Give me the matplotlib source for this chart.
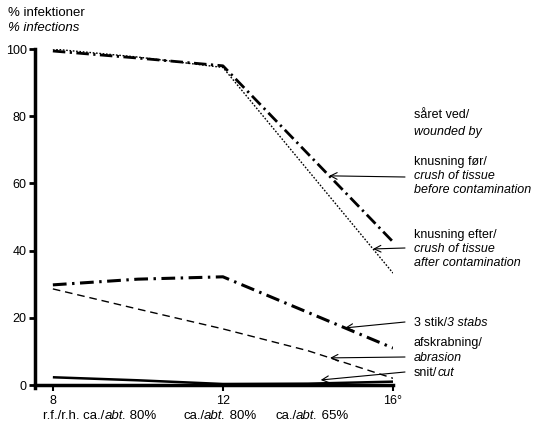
import numpy as np
import matplotlib
matplotlib.use('Agg')
import matplotlib.pyplot as plt

plt.rcParams['font.family'] = ['Liberation Sans', 'DejaVu Sans']
plt.rcParams['font.size'] = 9

# Infection rate (%) against temperature for each kind of wound
temps = [8, 10, 12, 14, 16]
crush_before = [99.4, 97.3, 95.0, 68.8, 42.6]
crush_after = [100.0, 97.6, 94.5, 63.9, 33.3]
stabs = [29.8, 31.5, 32.2, 21.6, 11.0]
abrasion = [28.6, 22.6, 16.7, 10.2, 2.0]
cut = [2.3, 1.4, 0.3, 0.4, 1.0]

xticks = [8, 12, 16]
xticklabels = ['8', '12', '16°']
yticks = [0, 20, 40, 60, 80, 100]

W, H = 538, 422
fig = plt.figure(figsize=(W / 100, H / 100), dpi=100)
ax = fig.add_axes([35 / W, 1 - 385 / H, (393 - 35) / W, (385 - 49) / H])


def fx(px):
    return px / W


def fy(py):
    return 1 - py / H


ax.plot(temps, crush_before, color='k', lw=2.0,
        linestyle=(0, (4.5, 1.6, 0.8, 1.6)))
ax.plot(temps, crush_after, color='k', lw=1.0, linestyle=(0, (1.2, 1.2)))
ax.plot(temps, stabs, color='k', lw=2.2,
        linestyle=(0, (4.5, 1.8, 0.8, 1.8)))
ax.plot(temps, abrasion, color='k', lw=1.0, linestyle=(0, (5.5, 3.5)))
ax.plot(temps, cut, color='k', lw=1.8, solid_capstyle='butt')

ax.set_xlim(7.58, 16)
ax.set_ylim(0, 100)
for side in ['top', 'right']:
    ax.spines[side].set_visible(False)
ax.spines['left'].set_linewidth(2.5)
ax.spines['bottom'].set_linewidth(2.5)
ax.spines['left'].set_bounds(-1, 100)
ax.set_xticks(xticks)
ax.set_xticklabels(xticklabels)
ax.set_yticks(yticks)
ax.tick_params(axis='y', direction='out', length=4, width=2, pad=2,
               labelsize=9)
ax.tick_params(axis='x', direction='out', length=4, width=1.5, pad=3,
               labelsize=9)

# Axis title
fig.text(fx(8), fy(13), '% infektioner', va='center', fontsize=9.5)
fig.text(fx(8), fy(28), '% infections', va='center', fontsize=9.5,
         style='italic')

renderer = fig.canvas.get_renderer()


def mixed(px, py, parts, size=9):
    # draw pieces of one line one after another, some of them italic
    x = fx(px)
    for s, st in parts:
        t = fig.text(x, fy(py), s, style=st, va='center', fontsize=size)
        bb = t.get_window_extent(renderer)
        x += bb.width / fig.bbox.width


# Labels on the right
tx = 414
fig.text(fx(tx), fy(115), 'såret ved/', va='center')
fig.text(fx(tx), fy(132), 'wounded by', va='center', style='italic')
fig.text(fx(tx), fy(162), 'knusning før/', va='center')
fig.text(fx(tx), fy(176), 'crush of tissue', va='center', style='italic')
fig.text(fx(tx), fy(190), 'before contamination', va='center',
         style='italic')
fig.text(fx(tx), fy(235), 'knusning efter/', va='center')
fig.text(fx(tx), fy(249), 'crush of tissue', va='center', style='italic')
fig.text(fx(tx), fy(263), 'after contamination', va='center',
         style='italic')
mixed(tx, 323, [('3 stik/', 'normal'), ('3 stabs', 'italic')])
fig.text(fx(tx), fy(343), 'afskrabning/', va='center')
fig.text(fx(tx), fy(358), 'abrasion', va='center', style='italic')
mixed(tx, 373, [('snit/', 'normal'), ('cut', 'italic')])

# Arrows from the labels to their curves
pointers = [
    (crush_before, 14.5, 177),
    (crush_after, 15.53, 248),
    (stabs, 14.87, 322),
    (abrasion, 14.52, 357),
    (cut, 14.3, 372),
]
for series, px_tip, py_tail in pointers:
    y_tip = np.interp(px_tip, temps, series)
    if series is cut:
        y_tip += 1.0
    ax.annotate('', xy=(px_tip, y_tip), xycoords='data',
                xytext=(fx(405), fy(py_tail)), textcoords='figure fraction',
                arrowprops=dict(arrowstyle='->', lw=0.8, color='k',
                                shrinkA=0, shrinkB=0,
                                mutation_scale=12))

# Conditions under the temperature axis
mixed(43, 416, [('r.f./r.h. ca./', 'normal'), ('abt.', 'italic'),
                (' 80%', 'normal')], size=9.5)
mixed(183, 416, [('ca./', 'normal'), ('abt.', 'italic'),
                 (' 80%', 'normal')], size=9.5)
mixed(275, 416, [('ca./', 'normal'), ('abt.', 'italic'),
                 (' 65%', 'normal')], size=9.5)

fig.savefig('out.png', dpi=100)
